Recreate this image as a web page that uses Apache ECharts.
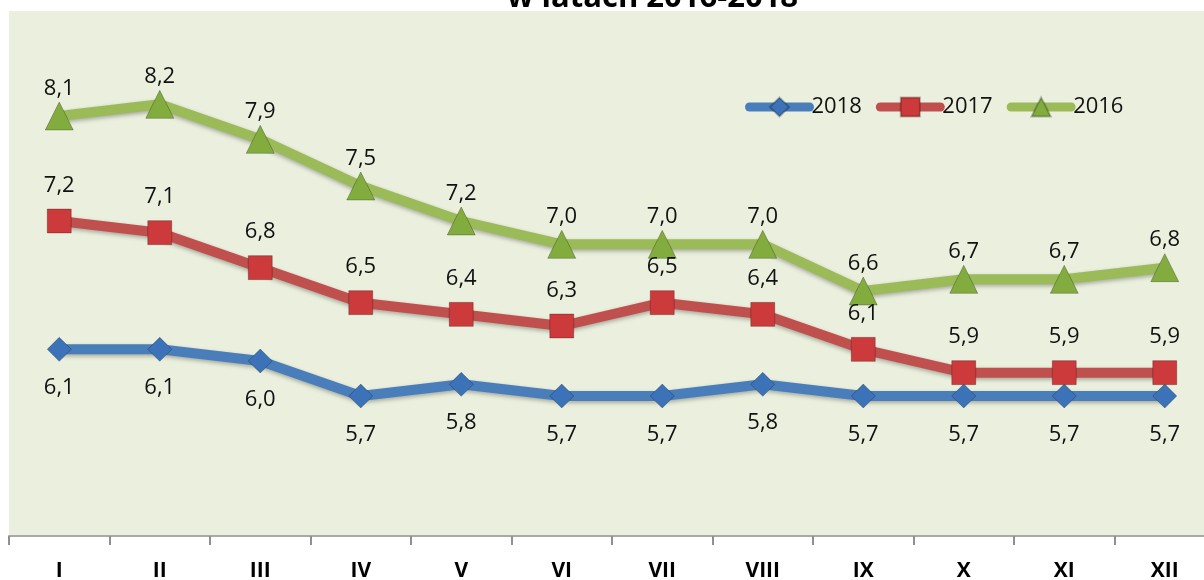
<!DOCTYPE html>
<html lang="pl">
<head>
  <meta charset="UTF-8">
  <title>Stopa bezrobocia</title>
  <script src="https://cdn.jsdelivr.net/npm/echarts@6/dist/echarts.min.js"></script>
  <style>
    html, body { margin: 0; padding: 0; background: #fff; }
    #main { width: 1204px; height: 580px; }
  </style>
</head>
<body>

<div id="main"></div>

<script>
  var months = ['I', 'II', 'III', 'IV', 'V', 'VI', 'VII', 'VIII', 'IX', 'X', 'XI', 'XII']
  var y2018 = [6.1, 6.1, 6.0, 5.7, 5.8, 5.7, 5.7, 5.8, 5.7, 5.7, 5.7, 5.7]
  var y2017 = [7.2, 7.1, 6.8, 6.5, 6.4, 6.3, 6.5, 6.4, 6.1, 5.9, 5.9, 5.9]
  var y2016 = [8.1, 8.2, 7.9, 7.5, 7.2, 7.0, 7.0, 7.0, 6.6, 6.7, 6.7, 6.8]

  var font = '"Open Sans", "Liberation Sans", sans-serif'

  function fmt(p) {
    return p.value.toFixed(1).replace('.', ',')
  }

  function line(name, data, color, markColor, symbol, size, pos, dist) {
    return {
      name: name,
      type: 'line',
      data: data,
      symbol: symbol,
      symbolSize: size,
      z: 3,
      lineStyle: {
        width: 10,
        color: color,
        shadowBlur: 4,
        shadowColor: 'rgba(0,0,0,0.3)',
        shadowOffsetY: 2
      },
      itemStyle: {
        color: markColor,
        borderColor: 'rgba(0,0,0,0.25)',
        borderWidth: 1
      },
      label: {
        show: true,
        position: pos,
        distance: dist,
        formatter: fmt,
        fontFamily: font,
        fontSize: 22,
        color: '#111'
      },
      emphasis: { disabled: true }
    }
  }

  var chart = echarts.init(document.querySelector('#main'))
  chart.setOption({
    animation: false,
    backgroundColor: '#fff',
    graphic: [{
      type: 'text',
      left: 507,
      top: -17,
      style: {
        text: 'w latach 2016-2018',
        fontFamily: font,
        fontWeight: 'bold',
        fontSize: 31,
        fill: '#000'
      }
    }],
    legend: {
      left: 745,
      top: 96,
      padding: 0,
      itemWidth: 60,
      itemHeight: 24,
      itemGap: 14,
      lineStyle: { width: 9, cap: 'round' },
      textStyle: { fontFamily: font, fontSize: 22, color: '#111', padding: [0, 0, 0, -3] },
      data: ['2018', '2017', '2016']
    },
    grid: {
      left: 9,
      top: 11,
      right: -11,
      bottom: 44,
      outerBoundsMode: 'none',
      show: true,
      backgroundColor: '#EBF0DE',
      borderWidth: 0
    },
    xAxis: {
      type: 'category',
      data: months,
      boundaryGap: true,
      axisLine: { lineStyle: { color: '#A8A8A8', width: 2 } },
      axisTick: { show: true, interval: 0, length: 9, lineStyle: { color: '#909090', width: 2 } },
      axisLabel: {
        margin: 25,
        fontFamily: font,
        fontWeight: 'bold',
        fontSize: 21,
        color: '#000'
      }
    },
    yAxis: {
      type: 'value',
      min: 4.5,
      max: 9,
      show: false
    },
    series: [
      line('2018', y2018, '#4A7EBB', '#3C72B8', 'diamond', 24, 'bottom', 15),
      line('2017', y2017, '#C0504D', '#CC3A3C', 'rect', 24, 'top', 12),
      line('2016', y2016, '#9BBB59', '#82AD3E', 'triangle', 28, 'top', 2)
    ]
  })
</script>
</body>
</html>
